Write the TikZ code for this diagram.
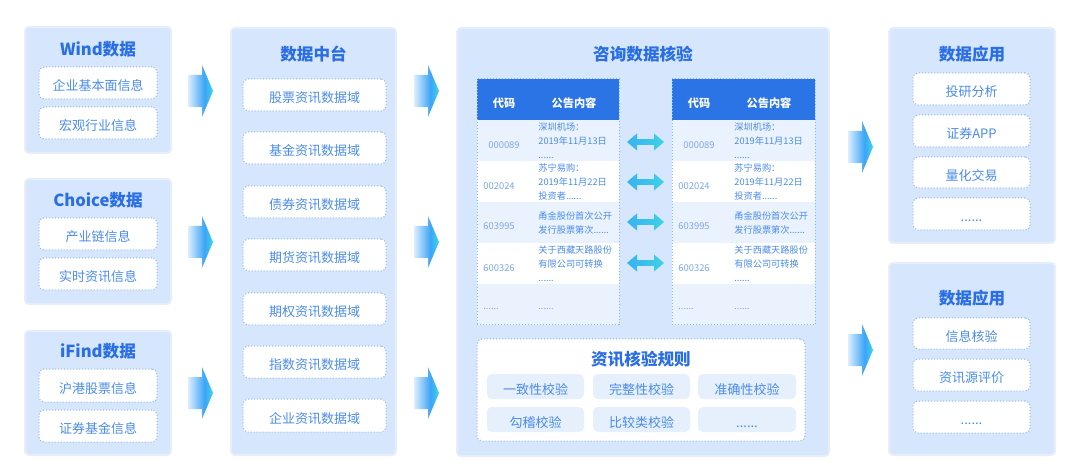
\documentclass[tikz,border=0pt]{standalone}
\usepackage{fontspec}
\setmainfont{Noto Sans CJK SC}
\usetikzlibrary{fit}
\definecolor{bgbox}{HTML}{D6E6FC}
\definecolor{edgec}{HTML}{E6EEF9}
\definecolor{ttlc}{HTML}{2A6EE6}
\definecolor{txtc}{HTML}{4A8CEB}
\definecolor{dotc}{HTML}{8DB6F2}
\definecolor{rowc}{HTML}{EAF2FD}
\definecolor{hdrc}{HTML}{2A74E6}
\definecolor{codec}{HTML}{7FA8E8}
\definecolor{cellc}{HTML}{E6EFFC}
\definecolor{arrA}{HTML}{DCEEFE}
\definecolor{arrB}{HTML}{3BA4F7}
\definecolor{arrC}{HTML}{3ED8E6}
\definecolor{dA}{HTML}{38B2F0}
\definecolor{dB}{HTML}{3ED2E6}
\pgfdeclarehorizontalshading{arrsh}{100bp}{color(0bp)=(arrA); color(25bp)=(arrA); color(58bp)=(arrB); color(75bp)=(arrC); color(100bp)=(arrC)}
\tikzset{
  outerbox/.style={fill=bgbox, draw=edgec, line width=1pt, rounded corners=2pt, inner sep=0pt},
  ibox/.style={fill=white, draw=dotc, densely dotted, line width=0.5pt, rounded corners=2.5pt, inner sep=0pt},
  cj/.style={text height=0.88em, text depth=0.12em, inner sep=0pt},
  lbl/.style={cj, text=txtc, font=\fontsize{6.5}{8}\selectfont},
  ttl/.style={cj, text=ttlc, font=\fontsize{8.3}{10}\selectfont\bfseries},
  hdr/.style={cj, text=white, font=\fontsize{5.6}{7}\selectfont\bfseries},
  codet/.style={cj, text=codec, font=\fontsize{4.7}{7}\selectfont},
  cont/.style={text=txtc, font=\fontsize{4.6}{7}\selectfont, align=left, anchor=west, inner sep=0pt},
  dots/.style={text=codec, font=\fontsize{4.6}{7}\selectfont, anchor=west, inner sep=0pt},
  cell/.style={fill=cellc, draw=none, rounded corners=2.5pt, inner sep=0pt},
  blockarr/.pic={\shade[shading=arrsh] (0,-16) -- (14,-16) -- (14,-26) -- (25,0) -- (14,26) -- (14,16) -- (0,16) -- cycle;},
  dblarr/.pic={\shade[left color=dA, right color=dB] (0,0) -- (10,-8.5) -- (10,-2.8) -- (27,-2.8) -- (27,-8.5) -- (37,0) -- (27,8.5) -- (27,2.8) -- (10,2.8) -- (10,8.5) -- cycle;}
}
\newcommand\ibx[6]{\node[ibox, fit={(#2,#3)(#4,#5)}] (#1) {}; \node[lbl] (#1t) at (#1.center) {#6};}
\newcommand\rcell[6]{\node[cell, fit={(#2,#3)(#4,#5)}] (#1) {}; \node[lbl] (#1t) at (#1.center) {#6};}
\begin{document}
\begin{tikzpicture}[x=0.5pt,y=-0.5pt]
\useasboundingbox[fill=white] (0,0) rectangle (1080,475);

% ---------- left column ----------
\node[outerbox, fit={(25,27)(171,153)}] (wind) {};
\node[ttl] (windT) at (98,48) {Wind数据};
\ibx{w1}{39}{67}{157}{99}{企业基本面信息}
\ibx{w2}{39}{107}{157}{139}{宏观行业信息}

\node[outerbox, fit={(25,179)(171,304)}] (choice) {};
\node[ttl] (choiceT) at (98,199) {Choice数据};
\ibx{c1}{39}{218}{157}{250}{产业链信息}
\ibx{c2}{39}{258}{157}{290}{实时资讯信息}

\node[outerbox, fit={(25,331)(171,455)}] (ifind) {};
\node[ttl] (ifindT) at (98,350) {iFind数据};
\ibx{i1}{39}{369}{157}{402}{沪港股票信息}
\ibx{i2}{39}{410}{157}{442}{证券基金信息}

\pic at (188,91) {blockarr};
\pic at (188,242) {blockarr};
\pic at (188,393) {blockarr};

% ---------- middle column ----------
\node[outerbox, fit={(231,28)(396,455)}] (mid) {};
\node[ttl] (midT) at (313.5,53) {数据中台};
\ibx{m1}{243}{79}{386}{111}{股票资讯数据域}
\ibx{m2}{243}{132}{386}{164}{基金资讯数据域}
\ibx{m3}{243}{186}{386}{218}{债券资讯数据域}
\ibx{m4}{243}{239}{386}{271}{期货资讯数据域}
\ibx{m5}{243}{293}{386}{325}{期权资讯数据域}
\ibx{m6}{243}{346}{386}{378}{指数资讯数据域}
\ibx{m7}{243}{399}{386}{432}{企业资讯数据域}

\pic at (414,91) {blockarr};
\pic at (414,242) {blockarr};
\pic at (414,393) {blockarr};

% ---------- center ----------
\node[outerbox, fit={(457,28)(829,456)}] (ctr) {};
\node[ttl] (ctrT) at (643,53) {咨询数据核验};

% left table
\fill[rowc] (477,120) rectangle (619,161);
\fill[white] (477,161) rectangle (619,202);
\fill[rowc] (477,202) rectangle (619,243);
\fill[white] (477,243) rectangle (619,284);
\fill[rowc] (477,284) rectangle (619,325);
\fill[hdrc] (477,79) rectangle (619,120);
\node[draw=dotc, densely dotted, line width=0.5pt, inner sep=0pt, fit={(477,79)(619,325)}] (tabL) {};
\node[hdr] (hL1) at (504,99.5) {代码};
\node[hdr] (hL2) at (574,99.5) {公告内容};
\node[codet] (cL1) at (504,141) {000089};
\node[codet, anchor=west] (cL2) at (483,182) {002024};
\node[codet, anchor=west] (cL3) at (483,222) {603995};
\node[codet, anchor=west] (cL4) at (483,264) {600326};
\node[dots] (cL5) at (483,309) {......};
\node[cont] (tL1) at (538,141) {深圳机场：\\2019年11月13日\\......};
\node[cont] (tL2) at (538,182) {苏宁易购：\\2019年11月22日\\投资者......};
\node[cont] (tL3) at (538,223) {甬金股份首次公开\\发行股票第次......};
\node[cont] (tL4) at (538,264) {关于西藏天路股份\\有限公司可转换\\......};
\node[dots] (tL5) at (538,309) {......};

% right table
\fill[rowc] (672,120) rectangle (815,161);
\fill[white] (672,161) rectangle (815,202);
\fill[rowc] (672,202) rectangle (815,243);
\fill[white] (672,243) rectangle (815,284);
\fill[rowc] (672,284) rectangle (815,325);
\fill[hdrc] (672,79) rectangle (815,120);
\node[draw=dotc, densely dotted, line width=0.5pt, inner sep=0pt, fit={(672,79)(815,325)}] (tabR) {};
\node[hdr] (hR1) at (699,99.5) {代码};
\node[hdr] (hR2) at (769,99.5) {公告内容};
\node[codet] (cR1) at (699,141) {000089};
\node[codet, anchor=west] (cR2) at (678,182) {002024};
\node[codet, anchor=west] (cR3) at (678,222) {603995};
\node[codet, anchor=west] (cR4) at (678,264) {600326};
\node[dots] (cR5) at (678,309) {......};
\node[cont] (tR1) at (734,141) {深圳机场：\\2019年11月13日\\......};
\node[cont] (tR2) at (734,182) {苏宁易购：\\2019年11月22日\\投资者......};
\node[cont] (tR3) at (734,223) {甬金股份首次公开\\发行股票第次......};
\node[cont] (tR4) at (734,264) {关于西藏天路股份\\有限公司可转换\\......};
\node[dots] (tR5) at (734,309) {......};

\pic at (627,142) {dblarr};
\pic at (627,182) {dblarr};
\pic at (627,222) {dblarr};
\pic at (627,263) {dblarr};

% rules box
\node[fill=white, draw=dotc, densely dotted, line width=0.5pt, rounded corners=2.5pt, inner sep=0pt, fit={(477,339)(805,441)}] (rules) {};
\node[ttl] (rulesT) at (641,358) {资讯核验规则};
\rcell{r1}{487}{374}{584}{399}{一致性校验}
\rcell{r2}{593}{374}{690}{399}{完整性校验}
\rcell{r3}{698}{374}{796}{399}{准确性校验}
\rcell{r4}{487}{407}{584}{432}{勾稽校验}
\rcell{r5}{593}{407}{690}{432}{比较类校验}
\rcell{r6}{698}{407}{796}{432}{......}

% ---------- right column ----------
\pic at (848,147) {blockarr};
\pic at (848,350) {blockarr};

\node[outerbox, fit={(889,28)(1055,243)}] (app1) {};
\node[ttl] (app1T) at (972,53) {数据应用};
\ibx{a1}{913}{73}{1030}{105}{投研分析}
\ibx{a2}{913}{115}{1030}{147}{证券APP}
\ibx{a3}{913}{157}{1030}{188}{量化交易}
\ibx{a4}{913}{198}{1030}{230}{......}

\node[outerbox, fit={(889,263)(1055,455)}] (app2) {};
\node[ttl] (app2T) at (972,297) {数据应用};
\ibx{b1}{913}{318}{1030}{349}{信息核验}
\ibx{b2}{913}{359}{1030}{391}{资讯源评价}
\ibx{b3}{913}{401}{1030}{433}{......}
\end{tikzpicture}
\end{document}
